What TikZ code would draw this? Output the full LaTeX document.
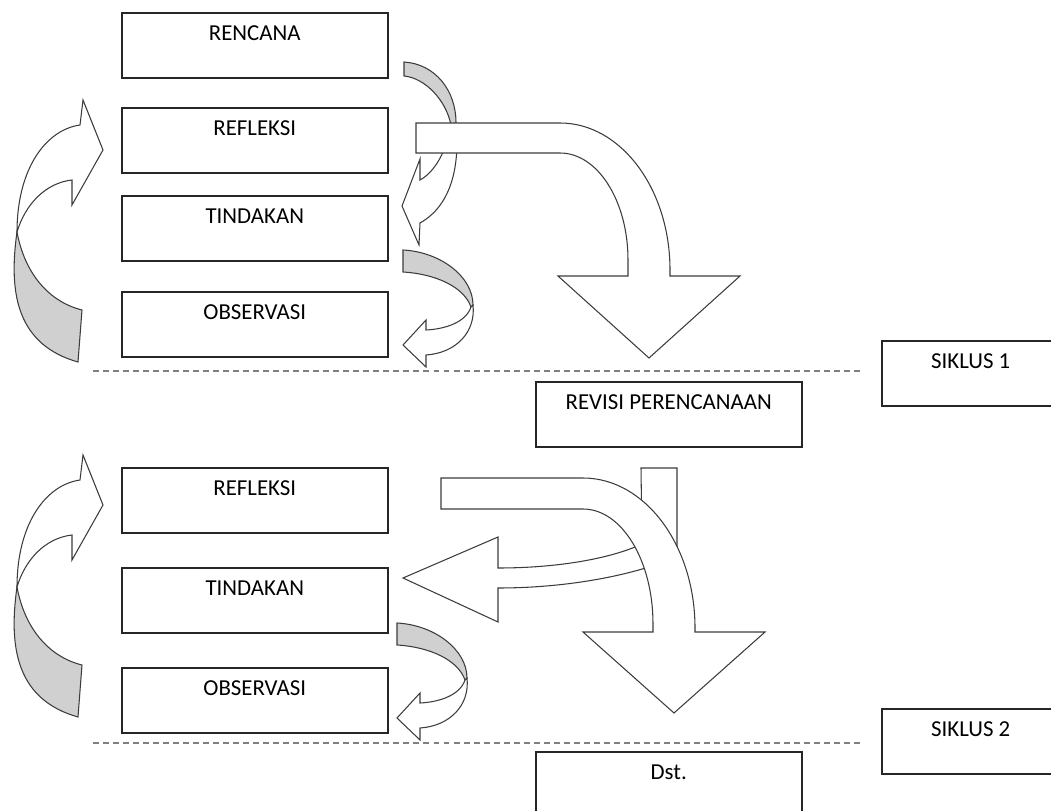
\documentclass[tikz,border=0pt]{standalone}
\usepackage{fontspec}
\setmainfont{Carlito}
\usepackage{tikz}
\definecolor{mygray}{RGB}{208,208,208}
\definecolor{myline}{RGB}{60,60,60}
\definecolor{mydash}{RGB}{128,128,128}

\begin{document}
\begin{tikzpicture}[x=0.02cm, y=-0.02cm,
  box/.style={draw=black!85, line width=0.9pt, fill=white, anchor=north west,
    minimum width=5.32cm, inner sep=0pt, text height=0.56cm, text depth=0.74cm,
    font=\fontsize{13}{15}\selectfont},
  depan/.style={draw=myline, line width=0.6pt, fill=white},
  belakang/.style={draw=myline, line width=0.6pt, fill=mygray},
  garis/.style={draw=mydash, line width=1.1pt, dash pattern=on 3.4pt off 2.3pt}]
  \useasboundingbox (0,0) rectangle (1051,811);

  % kotak siklus 1
  \node[box] (rencana)    at (121,12)  {RENCANA};
  \node[box] (refleksi)   at (121,107) {REFLEKSI};
  \node[box] (tindakan)   at (121,195) {TINDAKAN};
  \node[box] (observasi)  at (121,291) {OBSERVASI};
  \node[box, minimum width=3.56cm] (siklus1) at (881,340) {SIKLUS 1};
  \node[box] (revisi)     at (535,381) {REVISI PERENCANAAN};

  % kotak siklus 2
  \node[box] (refleksii)  at (121,467) {REFLEKSI};
  \node[box] (tindakanii) at (121,567) {TINDAKAN};
  \node[box] (observasiii) at (121,667) {OBSERVASI};
  \node[box, minimum width=3.56cm] (siklus2) at (881,708) {SIKLUS 2};
  \node[box] (dst)        at (535,751) {Dst.};

  % garis batas siklus
  \coordinate (gA1) at (93,371);  \coordinate (gB1) at (862,371);
  \coordinate (gA2) at (93,743);  \coordinate (gB2) at (862,743);
  \draw[garis] (gA1) -- (gB1);
  \draw[garis] (gA2) -- (gB2);

  % panah melengkung kiri
  \foreach \dy in {0,355}{
    \begin{scope}[shift={(0,\dy)}]
      \filldraw[belakang] (17,232) .. controls (8,295) and (18,345) .. (78,362)
        -- (82,310) .. controls (50,302) and (25,275) .. (17,232) -- cycle;
      \filldraw[depan] (17,232) .. controls (17,170) and (45,130) .. (80,125)
        -- (83,100) -- (103,150) -- (72,205) -- (72,180)
        .. controls (45,183) and (25,205) .. (17,232) -- cycle;
    \end{scope}
  }

  % panah kecil ke observasi
  \foreach \dx/\dy in {0/0,-6/373}{
    \begin{scope}[shift={(\dx,\dy)}]
      \filldraw[belakang] (403,250) .. controls (441,252) and (473,277) .. (473,305)
        -- (471,307) .. controls (464,287) and (436,274) .. (403,272) -- cycle;
      \filldraw[depan] (473,305) .. controls (476,332) and (456,353) .. (426,355)
        -- (426,367) -- (403,345) -- (426,320) -- (426,330)
        .. controls (446,329) and (466,322) .. (471,307) -- cycle;
    \end{scope}
  }

  % panah kecil rencana ke tindakan
  \filldraw[belakang] (404,62) .. controls (435,64) and (456,90) .. (456,123)
    -- (451,125) .. controls (446,100) and (425,78) .. (404,76) -- cycle;
  \filldraw[depan] (456,123) .. controls (460,165) and (452,205) .. (420,223)
    -- (419,245) -- (402,206) -- (420,159) -- (420,180)
    .. controls (435,172) and (447,150) .. (451,125) -- cycle;

  % panah besar siklus 1
  \filldraw[depan] (416,123) -- (560,123) .. controls (620.8,123) and (670,188.8) .. (670,270)
    -- (670,276) -- (740,276) -- (649,358) -- (558,276) -- (628,276) -- (628,260)
    .. controls (628,200.9) and (597.6,153) .. (560,153) -- (416,153) -- cycle;

  % panah ke tindakan siklus 2
  \filldraw[depan] (641,468) -- (677,468) -- (677,566) -- (652,566)
    .. controls (615,578) and (560,588) .. (498,588)
    -- (498,622) -- (403,578) -- (498,537) -- (498,568)
    .. controls (560,568) and (612,558) .. (642,544) -- cycle;

  % panah besar siklus 2
  \filldraw[depan] (441,478) -- (583,478) .. controls (644.9,478) and (695,545.2) .. (695,628)
    -- (695,632) -- (765,632) -- (674,713) -- (583,632) -- (653,632) -- (653,624)
    .. controls (653,560.5) and (621.7,509) .. (583,509) -- (441,509) -- cycle;
\end{tikzpicture}
\end{document}
